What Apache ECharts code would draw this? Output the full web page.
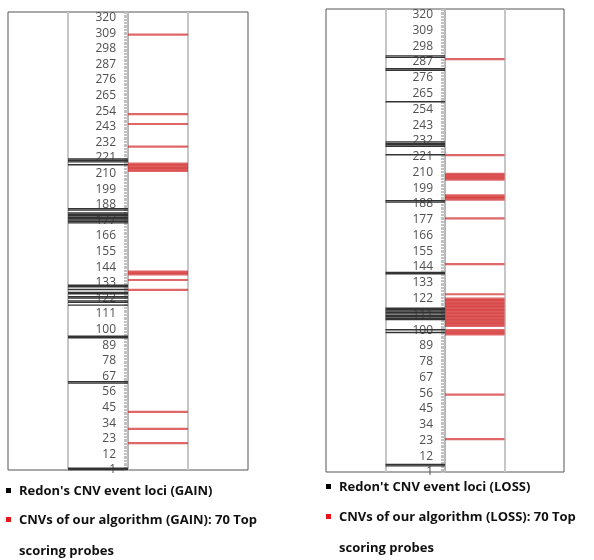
<!DOCTYPE html>
<html>
<head>
<meta charset="utf-8">
<script src="https://cdn.jsdelivr.net/npm/echarts@6/dist/echarts.min.js"></script>
<style>
html,body{margin:0;padding:0;background:#fff;}
#chart{width:594px;height:560px;}
</style>
</head>
<body>
<div id="chart"></div>
<script>
// probe indices (category axis 1..324)
const probeCount = 324;
const categories = Array.from({length: probeCount}, (_, i) => String(i + 1));

// GAIN panel
const gainRedonLoci = [1, 2, 62, 63, 94, 95, 117, 119, 120, 122, 123, 125, 126, 128, 130, 131,
  175, 176, 177, 178, 179, 180, 181, 182, 184, 185, 216, 218, 219, 220];
const gainOursLoci = [20, 30, 42, 128, 135, 139, 140, 141, 212, 213, 214, 215, 216, 217, 229, 245, 252, 308];

// LOSS panel
const lossRedonLoci = [5, 6, 98, 100, 107, 108, 109, 110, 111, 112, 113, 114, 115, 139, 140,
  189, 190, 222, 228, 229, 230, 231, 259, 281, 282, 290, 291];
const lossOursLoci = [24, 55, 97, 98, 99, 100, 103, 104, 105, 106, 107, 108, 109, 110, 111, 112, 113,
  114, 115, 116, 117, 118, 119, 120, 121, 122, 125, 146, 178, 191, 192, 193, 194,
  205, 206, 207, 208, 209, 222, 289];

const legendTexts = {
  gainRedon: "Redon's CNV event loci (GAIN)",
  gainOurs: ["CNVs of our algorithm (GAIN): 70 Top", "scoring probes"],
  lossRedon: "Redon't CNV event loci (LOSS)",
  lossOurs: ["CNVs of our algorithm (LOSS): 70 Top", "scoring probes"]
};

function toBars(loci, side) {
  const s = new Set(loci);
  return categories.map(c => s.has(+c) ? side : null);
}

const grids = [
  {left: 8, top: 12, width: 240, height: 458},
  {left: 326, top: 9, width: 238, height: 463}
];

function xAxisCfg(i) {
  return {
    type: 'value', gridIndex: i, min: -2, max: 2, interval: 1,
    axisLine: {show: false}, axisTick: {show: false}, axisLabel: {show: false},
    splitLine: {show: true, showMinLine: false, showMaxLine: false,
      lineStyle: {color: '#c6c6c6', width: 2}}
  };
}
function yAxisCfg(i) {
  // axis sits in the middle of the grid (between the black and the red columns)
  return {
    type: 'category', gridIndex: i, data: categories, boundaryGap: false,
    position: 'left', offset: -grids[i].width / 2,
    axisLine: {onZero: false, lineStyle: {color: '#b4b4b4', width: 2}},
    axisTick: {interval: 0, length: 4, lineStyle: {color: '#c0c0c0', width: 1}},
    axisLabel: {interval: 10, margin: 12, color: '#505050', fontSize: 12,
      fontFamily: 'Open Sans'},
    splitLine: {show: false}
  };
}
function barSeries(i, loci, side, color, width) {
  return {
    type: 'bar', xAxisIndex: i, yAxisIndex: i, data: toBars(loci, side),
    barWidth: width, barGap: '-100%', silent: true,
    itemStyle: {color: color}
  };
}

function legendItem(x, y, color, lines) {
  const els = [{
    type: 'rect', shape: {x: x, y: y - 3, width: 5, height: 5},
    style: {fill: color}
  }];
  lines.forEach((t, k) => {
    els.push({
      type: 'text', x: x + 13, y: y + k * 31,
      style: {text: t, fill: '#111', font: 'bold 13px "Open Sans"',
        textVerticalAlign: 'middle'}
    });
  });
  return els;
}

const chart = echarts.init(document.getElementById('chart'), null, {renderer: 'canvas'});
chart.setOption({
  animation: false,
  backgroundColor: '#fff',
  grid: grids.map(g => Object.assign({show: true, borderColor: '#555', borderWidth: 1,
    backgroundColor: '#fff', containLabel: false, outerBoundsMode: 'none'}, g)),
  xAxis: [xAxisCfg(0), xAxisCfg(1)],
  yAxis: [yAxisCfg(0), yAxisCfg(1)],
  series: [
    barSeries(0, gainRedonLoci, -1, '#333333', 1.4),
    barSeries(0, gainOursLoci, 1, 'rgba(212,52,52,0.75)', 2.2),
    barSeries(1, lossRedonLoci, -1, '#333333', 1.4),
    barSeries(1, lossOursLoci, 1, 'rgba(212,52,52,0.75)', 2.2)
  ],
  graphic: [].concat(
    legendItem(6, 491, '#000', [legendTexts.gainRedon]),
    legendItem(6, 520, '#e8141c', legendTexts.gainOurs),
    legendItem(326, 487, '#000', [legendTexts.lossRedon]),
    legendItem(326, 517, '#e8141c', legendTexts.lossOurs)
  )
});
</script>
</body>
</html>
